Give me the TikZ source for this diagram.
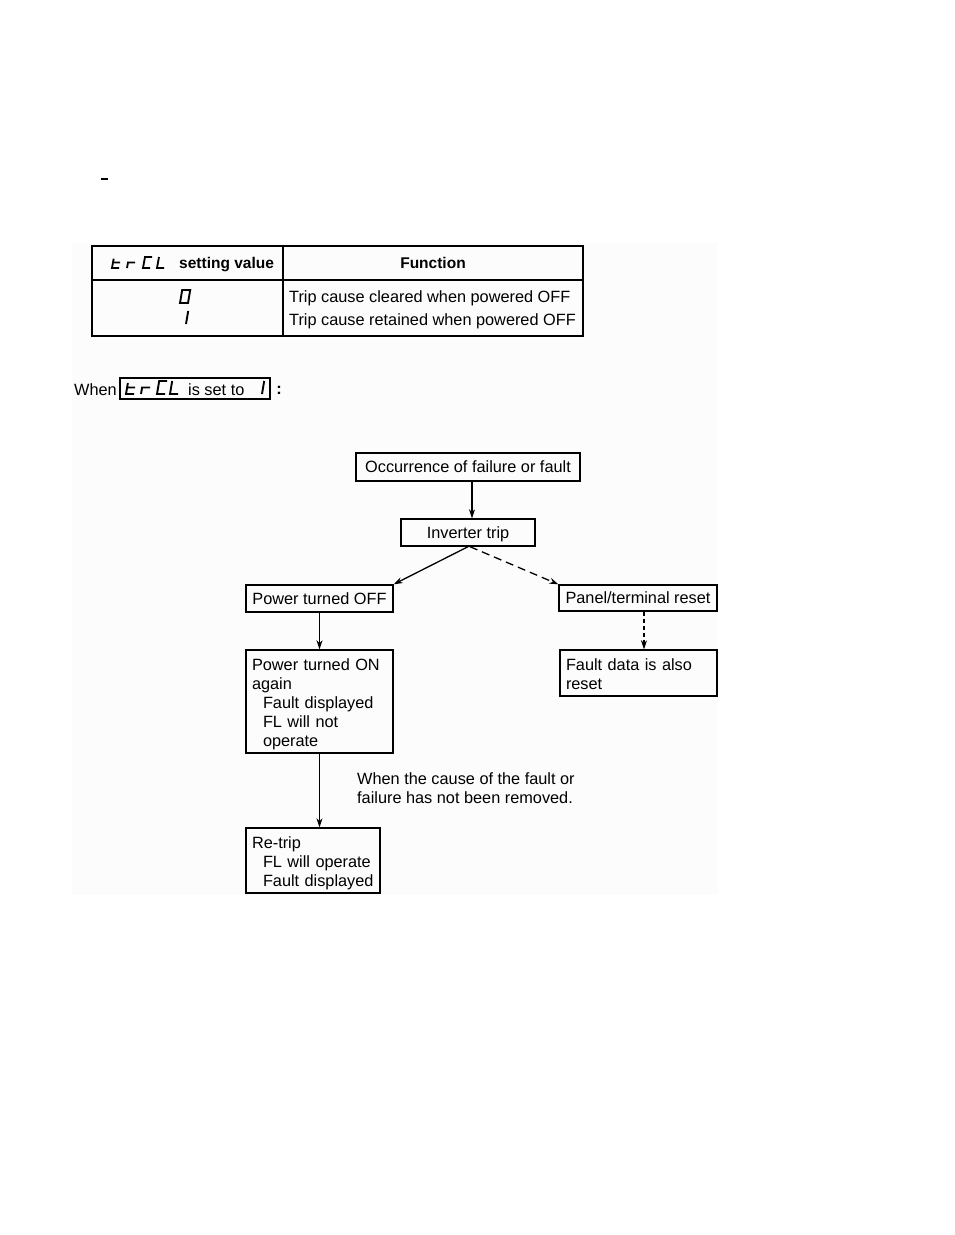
\documentclass[tikz,border=0pt]{standalone}
\usepackage{fontspec}
\setmainfont{Liberation Sans}
\usetikzlibrary{arrows.meta,positioning,calc}
\newcommand{\lcd}[3][lcd]{\draw[shift={#2},#1] #3;}

\begin{document}
\begin{tikzpicture}[x=1pt,y=-1pt,>={Stealth[length=9pt,width=6pt]},
  font=\fontsize{16.3}{19}\selectfont,
  box/.style={draw,line width=1.4pt,inner xsep=0pt,inner ysep=0pt,text height=11.6pt,text depth=0pt},
  lbox/.style={draw,line width=1.4pt,inner sep=0pt,inner xsep=6pt,align=left,text width=#1},
  hdr/.style={font=\bfseries\fontsize{15.5}{18}\selectfont,inner sep=0pt},
  txt/.style={anchor=west,inner sep=0pt},
  lcd/.style={line width=1.8pt,x={(7pt,0pt)},y={(2pt,11pt)}},
  biglcd/.style={line width=1.9pt,x={(8pt,0pt)},y={(2.2pt,13pt)}},
  link/.style={->,line width=1.3pt},
  dlink/.style={link,dash pattern=on 8pt off 5pt}]
  \useasboundingbox (0,0) rectangle (954,1235);
  \fill[black!1] (72,243) rectangle (718,895);
  \draw[line width=1.2pt] (101,179) -- (108,179);

  \draw[line width=1.4pt] (92,246) rectangle (583,336) (283,246) -- (283,336) (92,280) -- (583,280);
  \lcd{(112,268)}{(0,0.85)--(0,0)--(1,0) (0,0.5)--(1,0.5)}
  \lcd{(127,268)}{(0,0)--(0,0.5)--(1,0.5)}
  \lcd{(143,268)}{(1,1)--(0,1)--(0,0)--(1,0)}
  \lcd{(157,268)}{(0,1)--(0,0)--(1,0)}
  \node[hdr,anchor=base west] (sv) at (179,268) {setting value};
  \node[hdr] (fn) at (433,263) {Function};
  \lcd[biglcd]{(180,303)}{(0,0)--(1,0)--(1,1)--(0,1)--cycle}
  \lcd[biglcd]{(178,324)}{(1,0)--(1,1)}
  \node[txt] (r0) at (289,298) {Trip cause cleared when powered OFF};
  \node[txt] (r1) at (289,321) {Trip cause retained when powered OFF};

  \node[anchor=base west,inner sep=0pt] (when) at (74,395) {When};
  \draw[line width=1.3pt] (120,378) rectangle (270,399);
  \lcd[biglcd]{(126,394)}{(0,0.85)--(0,0)--(1,0) (0,0.5)--(1,0.5)}
  \lcd[biglcd]{(141,394)}{(0,0)--(0,0.5)--(1,0.5)}
  \lcd[biglcd]{(157,394)}{(1,1)--(0,1)--(0,0)--(1,0)}
  \lcd[biglcd]{(170,394)}{(0,1)--(0,0)--(1,0)}
  \node[anchor=base west,inner sep=0pt] (set) at (188,395) {is set to};
  \lcd[biglcd]{(254,394)}{(1,0)--(1,1)}
  \node[inner sep=0pt,font=\bfseries\fontsize{16.3}{19}\selectfont] (colon) at (279,390) {:};

  \node[box,minimum width=224,minimum height=28] (occ) at (468,467) {Occurrence of failure or fault};
  \node[box,minimum width=134,minimum height=27] (trip) at (468,532.5) {Inverter trip};
  \node[box,minimum width=147,minimum height=27] (off) at (319.5,598.5) {Power turned OFF};
  \node[box,minimum width=158,minimum height=26] (panel) at (638,598) {Panel/terminal reset};
  \node[lbox=135,minimum height=103] (on) at (319.5,701.5) {\rule{0pt}{17.6pt}Power turned ON\\again\\\hspace*{11pt}Fault displayed\\\hspace*{11pt}FL will not\\\hspace*{11pt}operate};
  \node[lbox=145,minimum height=46] (fault) at (638.5,673) {\rule{0pt}{13.6pt}Fault data is also\\reset};
  \node[lbox=122,minimum height=65] (retrip) at (313,860.5) {\rule{0pt}{17.6pt}Re-trip\\\hspace*{11pt}FL will operate\\\hspace*{11pt}Fault displayed};
  \node[txt,align=left] (cond) at (357,788.5) {When the cause of the fault or\\failure has not been removed.};

  \draw[link] ([xshift=4pt]occ.south) -- ([xshift=4pt]trip.north);
  \draw[link] (trip.south) -- (off.north east);
  \draw[dlink] ([xshift=2pt]trip.south) -- (panel.north west);
  \draw[link] (off) -- (on);
  \draw[link,dash pattern=on 4pt off 3pt] ([xshift=6pt]panel.south) -- ([xshift=6pt]panel.south |- fault.north);
  \draw[link] (on.south) -- (on.south |- retrip.north);
\end{tikzpicture}
\end{document}
